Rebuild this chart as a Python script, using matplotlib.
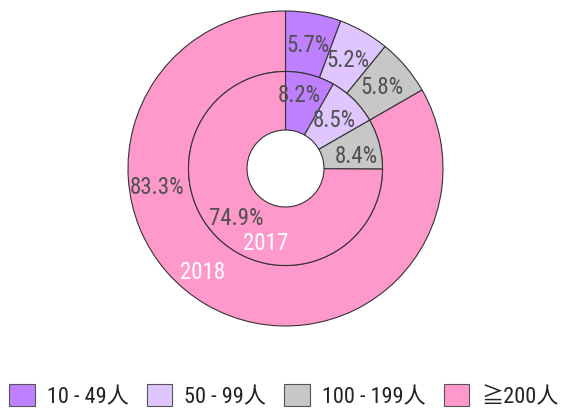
import matplotlib
matplotlib.use("Agg")
import matplotlib.pyplot as plt
import numpy as np
from matplotlib.patches import Patch

plt.rcParams['font.family'] = ['Roboto Condensed', 'Noto Sans CJK SC', 'DejaVu Sans']

categories = ["10 - 49人", "50 - 99人", "100 - 199人", "≧200人"]
values_2018 = [5.7, 5.2, 5.8, 83.3]
values_2017 = [8.2, 8.5, 8.4, 74.9]
colors = ["#BF80FF", "#DFC6FE", "#C7C7C7", "#FF99CC"]
label_color = "#505050"

fig = plt.figure(figsize=(5.68, 4.10), dpi=100)
R = 157.5
ax = fig.add_axes([(285.5 - R) / 568, (410 - 169.5 - R) / 410, 2 * R / 568, 2 * R / 410])

r_in_outer = 97 / R
r_hole = 38.5 / R

wedge_kw = dict(edgecolor="#333333", linewidth=0.8)
ax.pie(values_2018, radius=1.0, colors=colors, startangle=90, counterclock=False,
       wedgeprops=dict(width=1.0 - r_in_outer, **wedge_kw))
ax.pie(values_2017, radius=r_in_outer, colors=colors, startangle=90, counterclock=False,
       wedgeprops=dict(width=r_in_outer - r_hole, **wedge_kw))
ax.set_xlim(-1, 1)
ax.set_ylim(-1, 1)
ax.set_aspect('auto')
ax.axis('off')

fs = 16.5

def place(vals, r, overrides=None):
    cum = np.cumsum([0] + list(vals))
    tot = cum[-1]
    for i, v in enumerate(vals):
        mid = (cum[i] + cum[i + 1]) / 2 / tot * 360
        rr = r
        if overrides and i in overrides:
            mid, rr = overrides[i]
        th = np.deg2rad(mid)
        ax.text(rr * np.sin(th), rr * np.cos(th), f"{v}%", ha='center', va='center',
                fontsize=fs, color=label_color)

place(values_2018, 126 / R, overrides={3: (262, 130 / R)})
place(values_2017, 69 / R, overrides={0: (10.3, 75 / R), 2: (80, 72 / R)})

for lab, ang, rr in [("2018", 219, 132 / R), ("2017", 194.7, 77 / R)]:
    th = np.deg2rad(ang)
    ax.text(rr * np.sin(th), rr * np.cos(th), lab, ha='center', va='center',
            fontsize=fs, color='white')

handles = [Patch(facecolor=c, edgecolor="#555555", linewidth=0.8) for c in colors]
fig.legend(handles, categories, loc='center', bbox_to_anchor=(0.5, 1 - 397 / 410), ncol=4,
           frameon=False, fontsize=16, handlelength=1.15, handleheight=1.1,
           handletextpad=0.55, columnspacing=0.8, labelcolor="#222222",
           borderpad=0, borderaxespad=0)

fig.savefig("out.png", dpi=100)
